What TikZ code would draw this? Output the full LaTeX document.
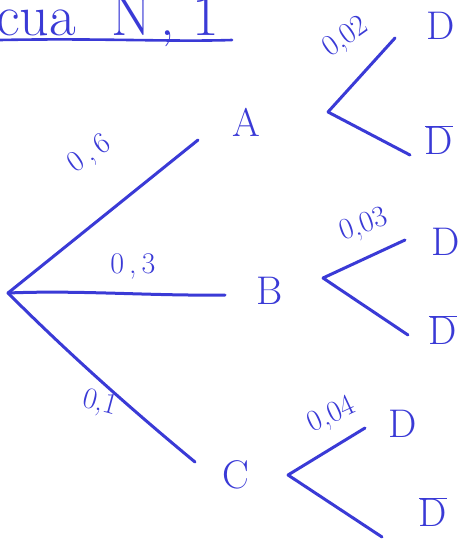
\documentclass[tikz,border=0pt]{standalone}
\usepackage{fontspec}
\usepackage{tikz}
\usetikzlibrary{positioning}
\definecolor{penblue}{RGB}{58,58,214}
\newcommand{\Dbar}{$\overline{\hbox{D}}$}
\tikzset{
  tree edge/.style={penblue,line width=3pt},
  prob label/.style={penblue,font=\fontsize{30}{32}\selectfont,inner sep=1pt},
  event label/.style={penblue,font=\fontsize{40}{42}\selectfont,inner sep=1pt}
}

\begin{document}
\begin{tikzpicture}[x=1pt,y=-1pt,line cap=round,line join=round]
  \useasboundingbox (0,0) rectangle (470,547);
  % title, cut at the top edge
  \node[penblue,font=\fontsize{58}{60}\selectfont,anchor=base west,inner sep=0pt] (title) at (-4,35) {cua\ \ N\,,\ 1};
  \draw[tree edge,line width=2.6pt] (0,40) .. controls (100,38) and (170,42) .. (232,40);

  \coordinate (r)  at (8,293);
  \coordinate (eA) at (198,140);
  \coordinate (eB) at (225,295);
  \coordinate (eC) at (195,462);
  \coordinate (fA) at (328,112);
  \coordinate (fB) at (323,278);
  \coordinate (fC) at (288,475);
  \coordinate (uA) at (395,38);
  \coordinate (dA) at (410,155);
  \coordinate (uB) at (405,240);
  \coordinate (dB) at (408,335);
  \coordinate (uC) at (365,428);
  \coordinate (dC) at (382,537);

  \node[event label] (A) at (246,122) {A};
  \node[event label] (B) at (270,291) {B};
  \node[event label] (C) at (236,475) {C};
  \node[event label] (DA)  at (441,26)  {D};
  \node[event label] (DbA) at (439,140) {\Dbar};
  \node[event label] (DB)  at (446,242) {D};
  \node[event label] (DbB) at (443,330) {\Dbar};
  \node[event label] (DC)  at (403,424) {D};
  \node[event label] (DbC) at (433,512) {\Dbar};

  \draw[tree edge] (r) -- (eA);
  \draw[tree edge] (r) .. controls (80,290) and (150,296) .. (eB);
  \draw[tree edge] (r) .. controls (60,345) and (120,400) .. (eC);
  \draw[tree edge] (fA) -- (uA) (fA) -- (dA);
  \draw[tree edge] (fB) -- (uB) (fB) -- (dB);
  \draw[tree edge] (fC) -- (uC) (fC) -- (dC);

  \node[prob label,rotate=35]  (pA)  at (90,155)  {0\,,\,6};
  \node[prob label]            (pB)  at (133,266) {0\,,\,3};
  \node[prob label,rotate=-15] (pC)  at (100,404) {0,1};
  \node[prob label,rotate=35]  (pDA) at (346,38)  {0,02};
  \node[prob label,rotate=20]  (pDB) at (364,226) {0,03};
  \node[prob label,rotate=25]  (pDC) at (332,416) {0,04};
\end{tikzpicture}
\end{document}
